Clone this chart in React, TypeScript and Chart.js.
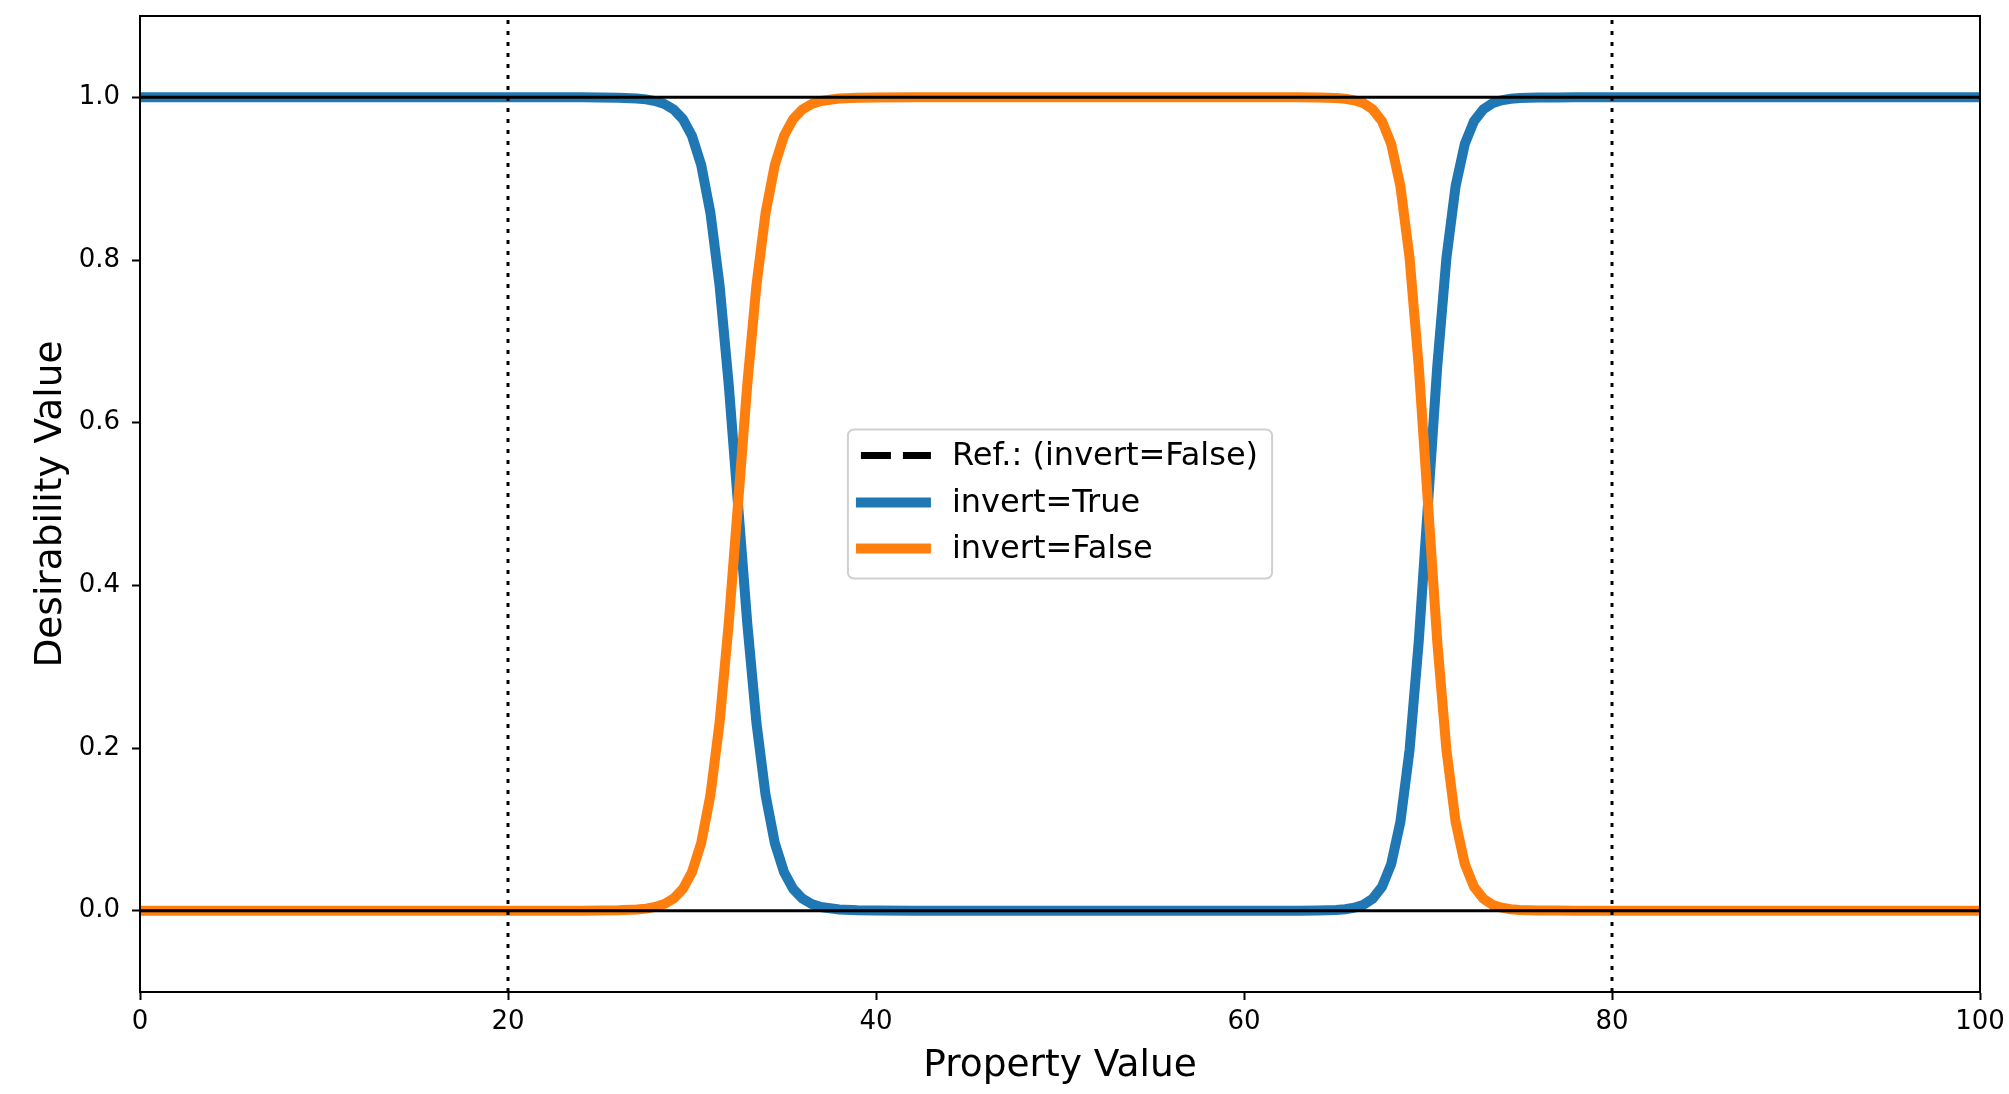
import React, { useEffect, useRef } from 'react';
import { Chart, registerables } from 'chart.js';

Chart.register(...registerables);

// ---- data ----
const xValues = [0, 5, 10, 15, 20, 22, 24, 25, 26, 27, 27.5, 28, 28.5, 29, 29.5, 30, 30.5, 31, 31.5, 32, 32.5, 33, 33.5, 34, 34.5, 35, 35.5, 36, 36.5, 37, 38, 39, 40, 42, 45, 50, 55, 58, 60, 62, 63, 64, 65, 65.5, 66, 66.5, 67, 67.5, 68, 68.5, 69, 69.5, 70, 70.5, 71, 71.5, 72, 72.5, 73, 73.5, 74, 74.5, 75, 76, 77, 78, 80, 85, 90, 95, 100];

const invertFalse = [0, 0, 0, 0, 0, 0, 0,
  0.0001, 0.0004, 0.0014,
  0.0025, 0.0045, 0.0082, 0.0148, 0.0266, 0.0474, 0.0832, 0.1419, 0.2315, 0.3543, 0.5, 0.6457, 0.7685, 0.8581, 0.9168, 0.9526, 0.9734, 0.9852, 0.9918, 0.9955,
  0.9986, 0.9996, 0.9999, 1, 1, 1, 1, 1, 1, 1, 1, 0.9998, 0.9991,
  0.9982, 0.9963, 0.9926, 0.9852, 0.9707, 0.9427, 0.8909, 0.8022, 0.6682, 0.5, 0.3318, 0.1978, 0.1091, 0.0573, 0.0293, 0.0148, 0.0074, 0.0037, 0.0018, 0.0009,
  0.0002, 0.0001, 0, 0, 0, 0, 0, 0];

const invertTrue = [1, 1, 1, 1, 1, 1, 1,
  0.9999, 0.9996, 0.9986,
  0.9975, 0.9955, 0.9918, 0.9852, 0.9734, 0.9526, 0.9168, 0.8581, 0.7685, 0.6457, 0.5, 0.3543, 0.2315, 0.1419, 0.0832, 0.0474, 0.0266, 0.0148, 0.0082, 0.0045,
  0.0014, 0.0004, 0.0001, 0, 0, 0, 0, 0, 0, 0, 0, 0.0002, 0.0009,
  0.0018, 0.0037, 0.0074, 0.0148, 0.0293, 0.0573, 0.1091, 0.1978, 0.3318, 0.5, 0.6682, 0.8022, 0.8909, 0.9427, 0.9707, 0.9852, 0.9926, 0.9963, 0.9982, 0.9991,
  0.9998, 0.9999, 1, 1, 1, 1, 1, 1];

// reference curve (invert=False) – same values as the invert=False series
const refValues = invertFalse;

const hLineValues = [0, 1];
const vLineValues = [20, 80];
const xRange = [0, 100];
const yRange = [-0.1, 1.1];
const xTicks = [0, 20, 40, 60, 80, 100];
const yTicks = [0.0, 0.2, 0.4, 0.6, 0.8, 1.0];

const labels = {
  ref: 'Ref.: (invert=False)',
  inv: 'invert=True',
  noinv: 'invert=False',
  x: 'Property Value',
  y: 'Desirability Value',
};

const FONT = '"DejaVu Sans", Verdana, sans-serif';
const BLUE = '#1f77b4';
const ORANGE = '#ff7f0e';

const toPts = (ys: number[]) => xValues.map((x, i) => ({ x, y: ys[i] }));

const overlayPlugin = {
  id: 'overlay',
  afterDatasetsDraw(chart: any) {
    const { ctx, chartArea: a } = chart;
    ctx.save();
    ctx.strokeStyle = '#000';
    ctx.lineWidth = 2;
    ctx.strokeRect(a.left, a.top, a.right - a.left, a.bottom - a.top);
    ctx.restore();
  },
  afterDraw(chart: any) {
    const { ctx, chartArea: a } = chart;
    const entries = chart.data.datasets.filter((d: any) => d.inLegend);
    ctx.save();
    ctx.font = `32px ${FONT}`;
    let maxW = 0;
    entries.forEach((d: any) => { maxW = Math.max(maxW, ctx.measureText(d.label).width); });
    const handleLen = 75;
    const padL = 8, gap = 21, padR = 14;
    const w = padL + handleLen + gap + maxW + padR;
    const h = 149;
    const cx = (a.left + a.right) / 2;
    const cy = (a.top + a.bottom) / 2;
    const bx = cx - w / 2;
    const by = cy - h / 2;
    ctx.beginPath();
    ctx.roundRect(bx, by, w, h, 6);
    ctx.fillStyle = 'rgba(255,255,255,0.8)';
    ctx.fill();
    ctx.strokeStyle = '#d0d0d0';
    ctx.lineWidth = 2;
    ctx.stroke();
    const rows = [26, 73, 119];
    entries.forEach((d: any, i: number) => {
      const y = by + rows[i];
      const dashed = d.borderDash && d.borderDash.length;
      ctx.beginPath();
      ctx.setLineDash(dashed ? [30, 12] : []);
      ctx.strokeStyle = d.borderColor;
      ctx.lineWidth = dashed ? 7 : 10;
      ctx.lineCap = 'butt';
      ctx.moveTo(bx + padL + (dashed ? 5 : 0), y);
      ctx.lineTo(bx + padL + handleLen, y);
      ctx.stroke();
      ctx.setLineDash([]);
      ctx.fillStyle = '#000';
      ctx.textBaseline = 'middle';
      ctx.textAlign = 'left';
      ctx.fillText(d.label, bx + padL + handleLen + gap, y + 1);
    });
    ctx.restore();
  },
};

export default function App() {
  const canvasRef = useRef<HTMLCanvasElement | null>(null);

  useEffect(() => {
    document.body.style.margin = '0';
    const canvas = canvasRef.current;
    if (!canvas) return;

    const lineBase = { pointRadius: 0, pointHoverRadius: 0, tension: 0, fill: false };

    const datasets: any[] = [
      { ...lineBase, label: labels.ref, data: toPts(refValues), borderColor: '#000', borderWidth: 7, borderDash: [30, 12], order: 3, inLegend: true },
      { ...lineBase, label: labels.inv, data: toPts(invertTrue), borderColor: BLUE, borderWidth: 10, order: 2, inLegend: true },
      { ...lineBase, label: labels.noinv, data: toPts(invertFalse), borderColor: ORANGE, borderWidth: 10, order: 1, inLegend: true },
      ...hLineValues.map((v) => ({ ...lineBase, label: 'h' + v, data: xRange.map((x) => ({ x, y: v })), borderColor: '#000', borderWidth: 3, order: 0 })),
      ...vLineValues.map((v) => ({ ...lineBase, label: 'v' + v, data: yRange.map((y) => ({ x: v, y })), borderColor: '#000', borderWidth: 3, borderDash: [4, 7], order: 0 })),
    ];

    const tickFont = { family: FONT, size: 26 };
    const titleFont = { family: FONT, size: 37.5, lineHeight: 1.2 };

    const chart = new Chart(canvas, {
      type: 'line',
      data: { datasets },
      plugins: [overlayPlugin],
      options: {
        animation: false,
        responsive: false,
        maintainAspectRatio: false,
        devicePixelRatio: 1,
        layout: { padding: { left: 0, right: 29, top: 16, bottom: 0 } },
        plugins: { legend: { display: false }, tooltip: { enabled: false }, title: { display: false } },
        scales: {
          x: {
            type: 'linear',
            min: xRange[0],
            max: xRange[1],
            afterBuildTicks: (s: any) => { s.ticks = xTicks.map((v) => ({ value: v })); },
            afterFit: (s: any) => { s.height = 102; s.paddingLeft = 0; s.paddingRight = 0; },
            ticks: { font: tickFont, color: '#000', padding: 7, autoSkip: false, maxRotation: 0, callback: (v: any) => String(v) },
            grid: { drawOnChartArea: false, drawTicks: true, tickLength: 8, tickWidth: 2, tickColor: '#000' },
            border: { display: true, color: '#000', width: 2 },
            title: { display: true, text: labels.x, font: titleFont, color: '#000', padding: { top: 0, bottom: 5.5 } },
          },
          y: {
            type: 'linear',
            min: yRange[0],
            max: yRange[1],
            afterBuildTicks: (s: any) => { s.ticks = yTicks.map((v) => ({ value: v })); },
            afterFit: (s: any) => { s.width = 140; s.paddingTop = 0; s.paddingBottom = 0; },
            ticks: { font: tickFont, color: '#000', padding: 12, autoSkip: false, callback: (v: any) => Number(v).toFixed(1) },
            grid: { drawOnChartArea: false, drawTicks: true, tickLength: 8, tickWidth: 2, tickColor: '#000' },
            border: { display: true, color: '#000', width: 2 },
            title: { display: true, text: labels.y, font: titleFont, color: '#000', padding: { top: 28.8, bottom: 0 } },
          },
        },
      } as any,
    });

    return () => chart.destroy();
  }, []);

  return (
    <div style={{ width: 2009, height: 1094, position: 'relative' }}>
      <canvas ref={canvasRef} width={2009} height={1094} style={{ display: 'block', width: 2009, height: 1094 }} />
    </div>
  );
}
